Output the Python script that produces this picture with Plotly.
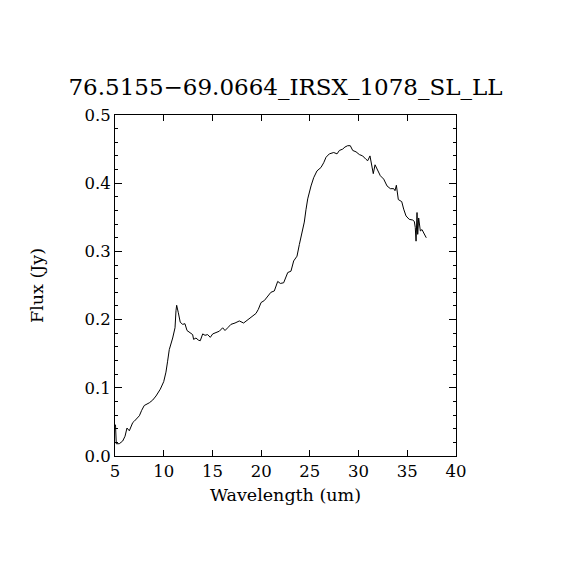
import plotly.graph_objects as go

wavelength = [5.05, 5.13, 5.44, 5.79, 6.03, 6.23, 6.47, 6.82, 6.98, 7.26, 7.5, 7.74, 8.0, 8.52, 8.87,
              9.21, 9.65, 10.0, 10.23, 10.4, 10.57, 10.92, 11.16, 11.26, 11.33, 11.5, 11.7, 11.95,
              12.18, 12.39, 12.73, 12.97, 13.07, 13.31, 13.55, 13.75, 14.0, 14.24, 14.51, 14.78,
              15.03, 15.37, 15.71, 16.05, 16.29, 16.57, 16.9, 17.32, 17.76, 18.2, 18.55, 18.89,
              19.13, 19.47, 19.71, 19.99, 20.33, 20.74, 21.0, 21.35, 21.7, 21.97, 22.31, 22.73,
              23.06, 23.34, 23.68, 23.92, 24.16, 24.43, 24.6, 24.78, 25.12, 25.39, 25.73, 26.14,
              26.42, 26.66, 27.0, 27.45, 27.79, 28.03, 28.37, 28.6, 28.88, 29.15, 29.4, 29.74,
              30.08, 30.42, 30.76, 30.94, 31.17, 31.35, 31.51, 31.69, 31.89, 32.23, 32.58, 32.92,
              33.26, 33.61, 33.74, 33.88, 34.08, 34.43, 34.63, 34.87, 35.2, 35.55, 35.72, 35.82,
              35.9, 36.0, 36.07, 36.17, 36.34, 36.51, 36.69, 36.95]
flux = [0.046, 0.018, 0.018, 0.022, 0.029, 0.041, 0.037, 0.049, 0.051, 0.056, 0.059, 0.067, 0.074,
        0.078, 0.082, 0.088, 0.098, 0.109, 0.123, 0.139, 0.156, 0.173, 0.188, 0.213, 0.221, 0.210,
        0.196, 0.193, 0.194, 0.184, 0.181, 0.178, 0.171, 0.173, 0.170, 0.169, 0.179, 0.177, 0.178,
        0.174, 0.179, 0.181, 0.183, 0.188, 0.184, 0.188, 0.193, 0.195, 0.198, 0.195, 0.199, 0.203,
        0.205, 0.209, 0.215, 0.225, 0.228, 0.236, 0.240, 0.242, 0.256, 0.253, 0.254, 0.269, 0.271,
        0.286, 0.293, 0.310, 0.325, 0.343, 0.361, 0.377, 0.396, 0.408, 0.418, 0.423, 0.430, 0.438,
        0.443, 0.445, 0.443, 0.448, 0.450, 0.453, 0.455, 0.455, 0.448, 0.446, 0.442, 0.440, 0.435,
        0.433, 0.440, 0.423, 0.414, 0.427, 0.420, 0.411, 0.406, 0.396, 0.392, 0.392, 0.389, 0.397,
        0.376, 0.373, 0.362, 0.352, 0.347, 0.346, 0.344, 0.335, 0.315, 0.357, 0.325, 0.349, 0.330,
        0.332, 0.327, 0.320]

title_text = "76.5155\u221269.0664_IRSX_1078_SL_LL"
FONT = "DejaVu Serif"

fig = go.Figure()
fig.add_trace(go.Scatter(x=wavelength, y=flux, mode="lines",
                         line=dict(color="black", width=1), showlegend=False))

fig.update_layout(
    width=570, height=570,
    margin=dict(l=107, r=122, t=107, b=122),
    paper_bgcolor="white", plot_bgcolor="white",
    font=dict(family=FONT, color="black", size=16),
    title=dict(text=title_text, x=0.5, xanchor="center", y=0.862, yanchor="middle",
               xref="paper", font=dict(family=FONT, size=23, color="black")),
)
fig.update_xaxes(range=[5, 40], tick0=5, dtick=5, ticks="inside", ticklen=6,
                 tickcolor="black", showline=True, linecolor="black", linewidth=1,
                 mirror="ticks", showgrid=False, zeroline=False,
                 title=dict(text="Wavelength (um)", standoff=8, font=dict(size=17.5)),
                 tickfont=dict(size=16.5))
fig.update_yaxes(range=[0, 0.5], dtick=0.1, tickformat=".1f", ticks="inside", ticklen=7,
                 tickcolor="black", showline=True, linecolor="black", linewidth=1,
                 mirror="ticks", showgrid=False, zeroline=False,
                 minor=dict(ticks="inside", ticklen=3, dtick=0.02, tickcolor="black", showgrid=False),
                 title=dict(text="Flux (Jy)", standoff=36, font=dict(size=17.5)),
                 tickfont=dict(size=16.5))

fig.write_html("out.html")
